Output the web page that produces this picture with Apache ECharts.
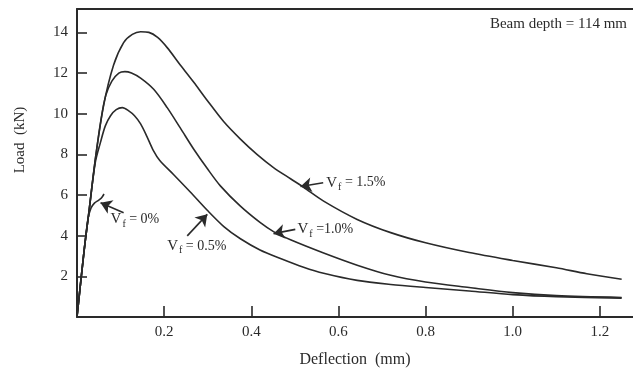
<!DOCTYPE html>
<html>
<head>
<meta charset="utf-8">
<script src="https://cdn.jsdelivr.net/npm/echarts/dist/echarts.min.js"></script>
<style>
  html, body { margin: 0; padding: 0; background: #fff; }
  #chart { width: 633px; height: 371px; }
</style>
</head>
<body>
<div id="chart"></div>
<script>
// deflection (mm) / load (kN)
const x0 = [0, 0.016, 0.025, 0.032, 0.04, 0.05, 0.056, 0.062]
const y0 = [0, 3.2, 4.8, 5.35, 5.6, 5.75, 5.85, 6.05]

const x05 = [0, 0.016, 0.027, 0.042, 0.054, 0.065, 0.077, 0.09, 0.104, 0.118, 0.132, 0.146, 0.16, 0.175, 0.19, 0.222, 0.26, 0.299, 0.337, 0.375, 0.42, 0.467, 0.52, 0.566, 0.643, 0.72, 0.8, 0.9, 1.0, 1.1, 1.25]
const y05 = [0, 3.2, 5.1, 7.6, 8.6, 9.4, 9.9, 10.2, 10.3, 10.15, 9.9, 9.5, 8.9, 8.2, 7.7, 7.0, 6.15, 5.25, 4.45, 3.85, 3.3, 2.88, 2.45, 2.15, 1.8, 1.6, 1.45, 1.28, 1.1, 1.0, 0.93]

const x10 = [0, 0.016, 0.027, 0.042, 0.055, 0.066, 0.08, 0.096, 0.11, 0.125, 0.146, 0.176, 0.207, 0.237, 0.268, 0.299, 0.329, 0.375, 0.42, 0.451, 0.49, 0.566, 0.643, 0.72, 0.8, 0.9, 1.0, 1.1, 1.25]
const y10 = [0, 3.2, 5.1, 7.75, 9.7, 10.9, 11.6, 12.0, 12.07, 12.0, 11.75, 11.2, 10.3, 9.3, 8.25, 7.3, 6.45, 5.45, 4.65, 4.2, 3.8, 3.15, 2.55, 2.05, 1.72, 1.45, 1.2, 1.05, 0.96]

const x15 = [0, 0.016, 0.027, 0.042, 0.061, 0.084, 0.107, 0.127, 0.146, 0.165, 0.185, 0.207, 0.237, 0.268, 0.299, 0.337, 0.375, 0.413, 0.451, 0.49, 0.52, 0.566, 0.643, 0.72, 0.8, 0.9, 1.0, 1.1, 1.17, 1.25]
const y15 = [0, 3.2, 5.1, 7.75, 10.4, 12.4, 13.5, 13.9, 14.03, 14.0, 13.75, 13.25, 12.4, 11.55, 10.65, 9.6, 8.75, 8.0, 7.35, 6.8, 6.38, 5.7, 4.8, 4.15, 3.65, 3.17, 2.78, 2.42, 2.13, 1.86]

// tick values shown on the axes
const xTicks = [0.2, 0.4, 0.6, 0.8, 1.0, 1.2]
const yTicks = [2, 4, 6, 8, 10, 12, 14]

// annotation: label anchor, arrow tail, arrow tip
const notes = [
  { name: '0%',   text: ' = 0%',   label: [0.077, 4.8],  tail: [0.107, 5.13], tip: [0.054, 5.62] },
  { name: '0.5%', text: ' = 0.5%', label: [0.207, 3.5],  tail: [0.253, 3.99], tip: [0.299, 5.05] },
  { name: '1.0%', text: ' =1.0%',  label: [0.506, 4.31], tail: [0.501, 4.31], tip: [0.451, 4.1] },
  { name: '1.5%', text: ' = 1.5%', label: [0.572, 6.6],  tail: [0.565, 6.6],  tip: [0.513, 6.42] }
]

const ink = '#2a2a2a'
const serif = '"Liberation Serif", "DejaVu Serif", serif'

const rich = {
  v: { fontFamily: serif, fontSize: 15, color: ink },
  s: { fontFamily: serif, fontSize: 10, color: ink, padding: [9, 0, 0, 1] },
  t: { fontFamily: serif, fontSize: 14, color: ink }
}

function makeSeries(xs, ys, note) {
  return {
    type: 'line',
    name: note.name,
    data: xs.map((x, i) => [x, ys[i]]),
    smooth: 0.3,
    showSymbol: false,
    lineStyle: { color: ink, width: 1.6 },
    z: 3,
    markLine: {
      silent: true,
      symbol: ['none', 'arrow'],
      symbolSize: 11,
      lineStyle: { color: ink, width: 1.6, type: 'solid' },
      label: { show: false },
      data: [[{ coord: note.tail }, { coord: note.tip }]]
    },
    markPoint: {
      silent: true,
      symbol: 'circle',
      symbolSize: 0,
      data: [{
        coord: note.label,
        label: {
          show: true,
          position: 'right',
          distance: 0,
          formatter: '{v|V}{s|f}{t|' + note.text + '}',
          rich: rich
        }
      }]
    }
  }
}

const chart = echarts.init(document.getElementById('chart'))

chart.setOption({
  backgroundColor: '#fff',
  animation: false,
  grid: { left: 77, right: 0, top: 9, bottom: 54, outerBoundsMode: 'none' },
  xAxis: [
    {
      type: 'value',
      min: 0,
      max: 1.276,
      interval: 0.2,
      name: 'Deflection  (mm)',
      nameLocation: 'middle',
      nameGap: 35,
      nameTextStyle: { fontFamily: serif, fontSize: 16, color: ink },
      axisLine: { lineStyle: { color: ink, width: 2 } },
      axisTick: { inside: true, length: 11, customValues: xTicks, lineStyle: { color: ink, width: 1.6 } },
      axisLabel: {
        margin: 8,
        fontFamily: serif,
        fontSize: 15,
        color: ink,
        customValues: xTicks,
        formatter: v => v.toFixed(1)
      },
      splitLine: { show: false }
    },
    {
      type: 'value',
      position: 'top',
      min: 0,
      max: 1.276,
      axisLine: { show: true, lineStyle: { color: ink, width: 2 } },
      axisTick: { show: false },
      axisLabel: { show: false },
      splitLine: { show: false }
    }
  ],
  yAxis: {
    type: 'value',
    min: 0,
    max: 15.15,
    interval: 2,
    axisLine: { show: true, lineStyle: { color: ink, width: 2 } },
    axisTick: { inside: true, length: 10, customValues: yTicks, lineStyle: { color: ink, width: 1.6 } },
    axisLabel: {
      margin: 9,
      fontFamily: serif,
      fontSize: 15,
      color: ink,
      customValues: yTicks
    },
    splitLine: { show: false }
  },
  graphic: [
    {
      type: 'text',
      right: 6,
      top: 17,
      style: { text: 'Beam depth = 114 mm', font: '15px ' + serif, fill: ink }
    },
    {
      type: 'text',
      x: 20,
      y: 140,
      rotation: Math.PI / 2,
      style: { text: 'Load  (kN)', font: '15px ' + serif, fill: ink, align: 'center', verticalAlign: 'middle' }
    }
  ],
  series: [
    makeSeries(x0, y0, notes[0]),
    makeSeries(x05, y05, notes[1]),
    makeSeries(x10, y10, notes[2]),
    makeSeries(x15, y15, notes[3])
  ]
})
</script>
</body>
</html>
